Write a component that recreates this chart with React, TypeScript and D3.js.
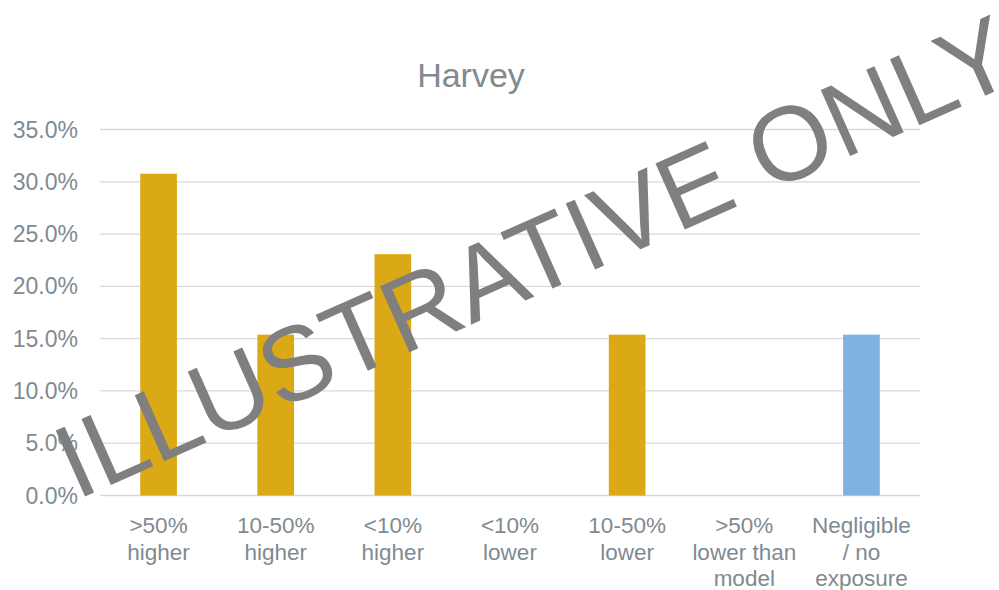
import React from "react";
import * as d3 from "d3";

const categories: string[][] = [
  [">50%", "higher"],
  ["10-50%", "higher"],
  ["<10%", "higher"],
  ["<10%", "lower"],
  ["10-50%", "lower"],
  [">50%", "lower than", "model"],
  ["Negligible", "/ no", "exposure"],
];
const values: number[] = [30.77, 15.38, 23.08, 0, 15.38, 0, 15.38];
const barColors: string[] = ["#DAA915", "#DAA915", "#DAA915", "#DAA915", "#DAA915", "#DAA915", "#7EB2E0"];
const yTicks: number[] = [0, 5, 10, 15, 20, 25, 30, 35];
const title = "Harvey";
const watermark = "ILLUSTRATIVE ONLY";

const W = 999;
const H = 590;
const FONT = "'Liberation Sans', Arial, sans-serif";
const TEXT = "#808a90";

export default function App() {
  const x = d3
    .scaleBand<number>()
    .domain(categories.map((_, i) => i))
    .range([100, 920])
    .padding(0);
  const y = d3.scaleLinear().domain([0, 35]).range([495.5, 129.5]);
  const bw = x.bandwidth() * 0.313;

  return (
    <svg
      width={W}
      height={H}
      style={{ position: "absolute", left: 0, top: 0, background: "#fff" }}
      fontFamily={FONT}
    >
      <rect width={W} height={H} fill="#fff" />
      <text x={471} y={87} textAnchor="middle" fontSize={34} fill={TEXT}>
        {title}
      </text>
      {yTicks.map((t) => (
        <g key={t}>
          <line x1={100} x2={920} y1={y(t)} y2={y(t)} stroke="#d9d9d9" strokeWidth={1.3} />
          <text x={78} y={y(t) + 8} textAnchor="end" fontSize={23} fill={TEXT}>
            {t.toFixed(1) + "%"}
          </text>
        </g>
      ))}
      {values.map((v, i) => (
        <rect
          key={i}
          x={(x(i) as number) + x.bandwidth() / 2 - bw / 2}
          y={y(v)}
          width={bw}
          height={y(0) - y(v)}
          fill={barColors[i]}
        />
      ))}
      {categories.map((lines, i) => (
        <text
          key={i}
          x={(x(i) as number) + x.bandwidth() / 2}
          y={533}
          textAnchor="middle"
          fontSize={22.5}
          fill={TEXT}
        >
          {lines.map((l, j) => (
            <tspan key={j} x={(x(i) as number) + x.bandwidth() / 2} dy={j === 0 ? 0 : 26.5}>
              {l}
            </tspan>
          ))}
        </text>
      ))}
      <text
        x={0}
        y={0}
        transform="translate(549,290) rotate(-24)"
        textAnchor="middle"
        fontSize={105}
        fill="#7f7f7f"
      >
        {watermark}
      </text>
    </svg>
  );
}
